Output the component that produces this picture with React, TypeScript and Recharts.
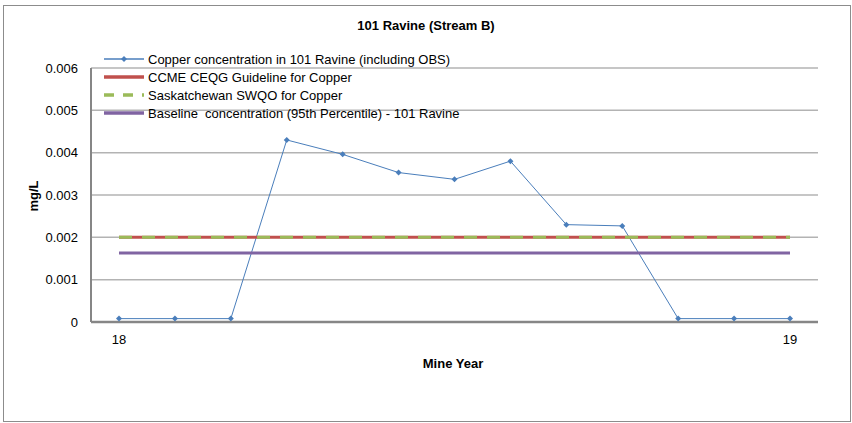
import React from 'react'
import { LineChart, Line, XAxis, YAxis, CartesianGrid } from 'recharts'

// x categories (13 sampling events across mine year 18 -> 19), only ends labelled
const xLabels = ['18', '', '', '', '', '', '', '', '', '', '', '', '19']
const copper = [0.00008, 0.00008, 0.00008, 0.0043, 0.00396, 0.00353, 0.00337, 0.0038, 0.0023, 0.00227, 0.00008, 0.00008, 0.00008]
const ccme = [0.002, 0.002, 0.002, 0.002, 0.002, 0.002, 0.002, 0.002, 0.002, 0.002, 0.002, 0.002, 0.002]
const swqo = [0.002, 0.002, 0.002, 0.002, 0.002, 0.002, 0.002, 0.002, 0.002, 0.002, 0.002, 0.002, 0.002]
const baseline = [0.00163, 0.00163, 0.00163, 0.00163, 0.00163, 0.00163, 0.00163, 0.00163, 0.00163, 0.00163, 0.00163, 0.00163, 0.00163]
const yTicks = [0, 0.001, 0.002, 0.003, 0.004, 0.005, 0.006]

const FONT = '"Liberation Sans", Arial, sans-serif'

const series = [
  { key: 'copper', name: 'Copper concentration in 101 Ravine (including OBS)', color: '#4A7EBB', width: 1, dash: undefined as string | undefined, marker: true },
  { key: 'ccme', name: 'CCME CEQG Guideline for Copper', color: '#C0504D', width: 3, dash: undefined, marker: false },
  { key: 'swqo', name: 'Saskatchewan SWQO for Copper', color: '#9BBB59', width: 3, dash: '13 10', marker: false },
  { key: 'baseline', name: 'Baseline  concentration (95th Percentile) - 101 Ravine', color: '#8064A2', width: 3, dash: undefined, marker: false },
]

const data = xLabels.map((label, i) => ({
  label,
  copper: copper[i],
  ccme: ccme[i],
  swqo: swqo[i],
  baseline: baseline[i],
}))

const Diamond = (props: any) => {
  const { cx, cy, stroke } = props
  if (cx == null || cy == null) return null
  const r = 3
  return <path d={`M${cx},${cy - r}L${cx + r},${cy}L${cx},${cy + r}L${cx - r},${cy}Z`} fill={stroke} stroke="none" />
}

// legend sits inside the plot area top-left, kept out of recharts layout
const ChartLegend = () => (
  <div style={{ position: 'absolute', left: 104, top: 50, fontFamily: FONT, fontSize: 13, color: '#000' }}>
    {series.map(s => (
      <div key={s.key} style={{ display: 'flex', alignItems: 'center', height: 18 }}>
        <svg width={43} height={10} style={{ marginRight: 1 }}>
          <line x1={0} y1={5} x2={40} y2={5} stroke={s.color} strokeWidth={s.marker ? 1.5 : 3.5} strokeDasharray={s.dash ? '10 9' : undefined} />
          {s.marker && <path d="M20,2L23,5L20,8L17,5Z" fill={s.color} />}
        </svg>
        <span style={{ whiteSpace: 'pre' }}>{s.name}</span>
      </div>
    ))}
  </div>
)

export default function App() {
  return (
    <div style={{ position: 'absolute', left: 0, top: 0, width: 852, height: 423, background: '#fff' }}>
      <div style={{ position: 'absolute', left: 3, top: 5, width: 846, height: 415, border: '1px solid #8c8c8c' }} />
      <LineChart width={852} height={423} data={data} margin={{ top: 68, right: 34, bottom: 0, left: 0 }}>
        <CartesianGrid vertical={false} stroke="#b3b3b3" strokeWidth={1.5} />
        <XAxis
          dataKey="label"
          interval={0}
          height={101}
          padding={{ left: 28, right: 28 }}
          tickLine={false}
          tickSize={0}
          tickMargin={13}
          axisLine={{ stroke: '#868686', strokeWidth: 2.5 }}
          tick={{ fill: '#000', fontSize: 13, fontFamily: FONT }}
        />
        <YAxis
          width={91}
          domain={[0, 0.006]}
          ticks={yTicks}
          interval={0}
          tickLine={false}
          tickSize={0}
          tickMargin={13}
          axisLine={{ stroke: '#868686', strokeWidth: 2 }}
          tick={{ fill: '#000', fontSize: 13, fontFamily: FONT }}
        />
        {series.map(s => (
          <Line
            key={s.key}
            type="linear"
            dataKey={s.key}
            name={s.name}
            stroke={s.color}
            strokeWidth={s.width}
            strokeDasharray={s.dash}
            dot={s.marker ? <Diamond /> : false}
            activeDot={false}
            isAnimationActive={false}
          />
        ))}
      </LineChart>
      <ChartLegend />
      <div style={{ position: 'absolute', left: 0, width: 852, top: 18, textAlign: 'center', fontFamily: FONT, fontWeight: 'bold', fontSize: 13 }}>
        101 Ravine (Stream B)
      </div>
      <div style={{ position: 'absolute', left: 403, width: 100, top: 356, textAlign: 'center', fontFamily: FONT, fontWeight: 'bold', fontSize: 13 }}>
        Mine Year
      </div>
      <div style={{ position: 'absolute', left: 33, top: 196, transform: 'translate(-50%, -50%) rotate(-90deg)', fontFamily: FONT, fontWeight: 'bold', fontSize: 13, whiteSpace: 'nowrap' }}>
        mg/L
      </div>
    </div>
  )
}
